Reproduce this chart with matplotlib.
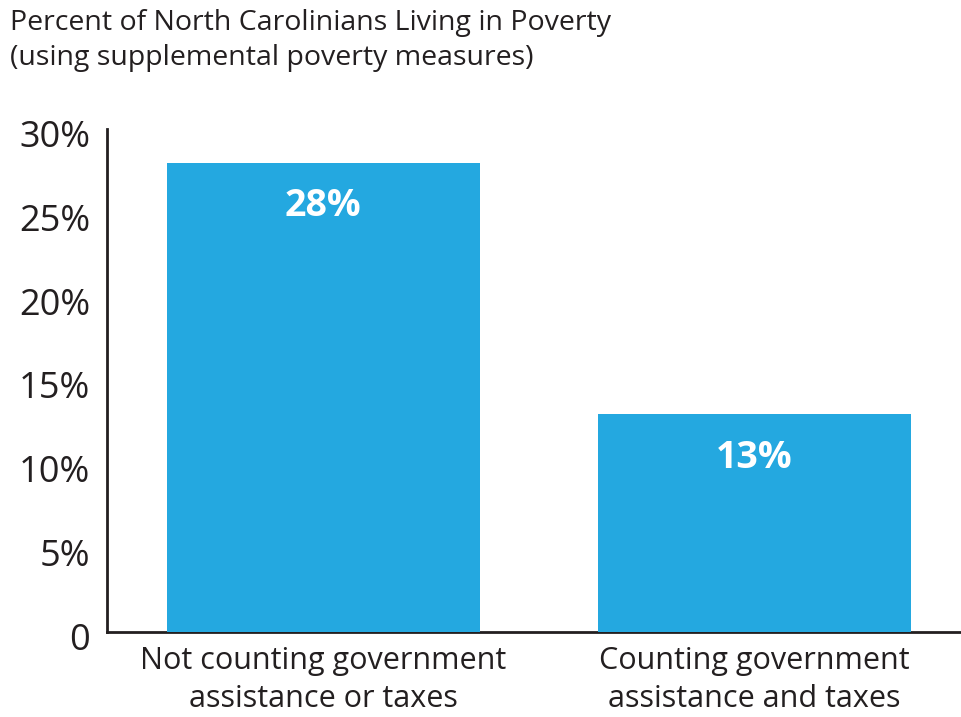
import matplotlib.pyplot as plt
from matplotlib.transforms import offset_copy

plt.rcParams['font.family'] = ['Open Sans', 'DejaVu Sans']

categories = ['Not counting government\nassistance or taxes',
              'Counting government\nassistance and taxes']
values = [28, 13]
value_labels = ['28%', '13%']
yticks = [0, 5, 10, 15, 20, 25, 30]
ytick_labels = ['0', '5%', '10%', '15%', '20%', '25%', '30%']

blue = '#24A8E0'
ink = '#231F20'

fig = plt.figure(figsize=(9.61, 7.17), dpi=100)
ax = fig.add_axes([0.1113, 0.1185, 0.8887, 0.7010])

x = range(len(values))
ax.bar(x, values, width=0.726, color=blue, zorder=1)
for i, v in enumerate(values):
    ax.text(i, v - 2.6, value_labels[i], ha='center', va='center',
            color='white', fontsize=27, fontweight='bold')

ax.set_xlim(-0.502, 1.479)
ax.set_ylim(0, 30)
ax.set_yticks(yticks)
ax.set_yticklabels(ytick_labels, fontsize=26, color=ink)
ax.set_xticks(list(x))
ax.set_xticklabels(categories, fontsize=22, color=ink, linespacing=1.35)
ax.tick_params(axis='both', length=0)
ax.tick_params(axis='y', pad=12)
ax.tick_params(axis='x', pad=10)
for lbl in ax.get_yticklabels():
    lbl.set_transform(offset_copy(lbl.get_transform(), fig=fig, y=-3, units='points'))

for s in ['top', 'right']:
    ax.spines[s].set_visible(False)
for s in ['left', 'bottom']:
    ax.spines[s].set_color(ink)
    ax.spines[s].set_linewidth(2)
    ax.spines[s].set_zorder(0)

fig.text(0.01, 0.987, 'Percent of North Carolinians Living in Poverty\n(using supplemental poverty measures)',
         ha='left', va='top', fontsize=20.5, color=ink, linespacing=1.3)

fig.savefig('out.png', dpi=100, facecolor='white')
